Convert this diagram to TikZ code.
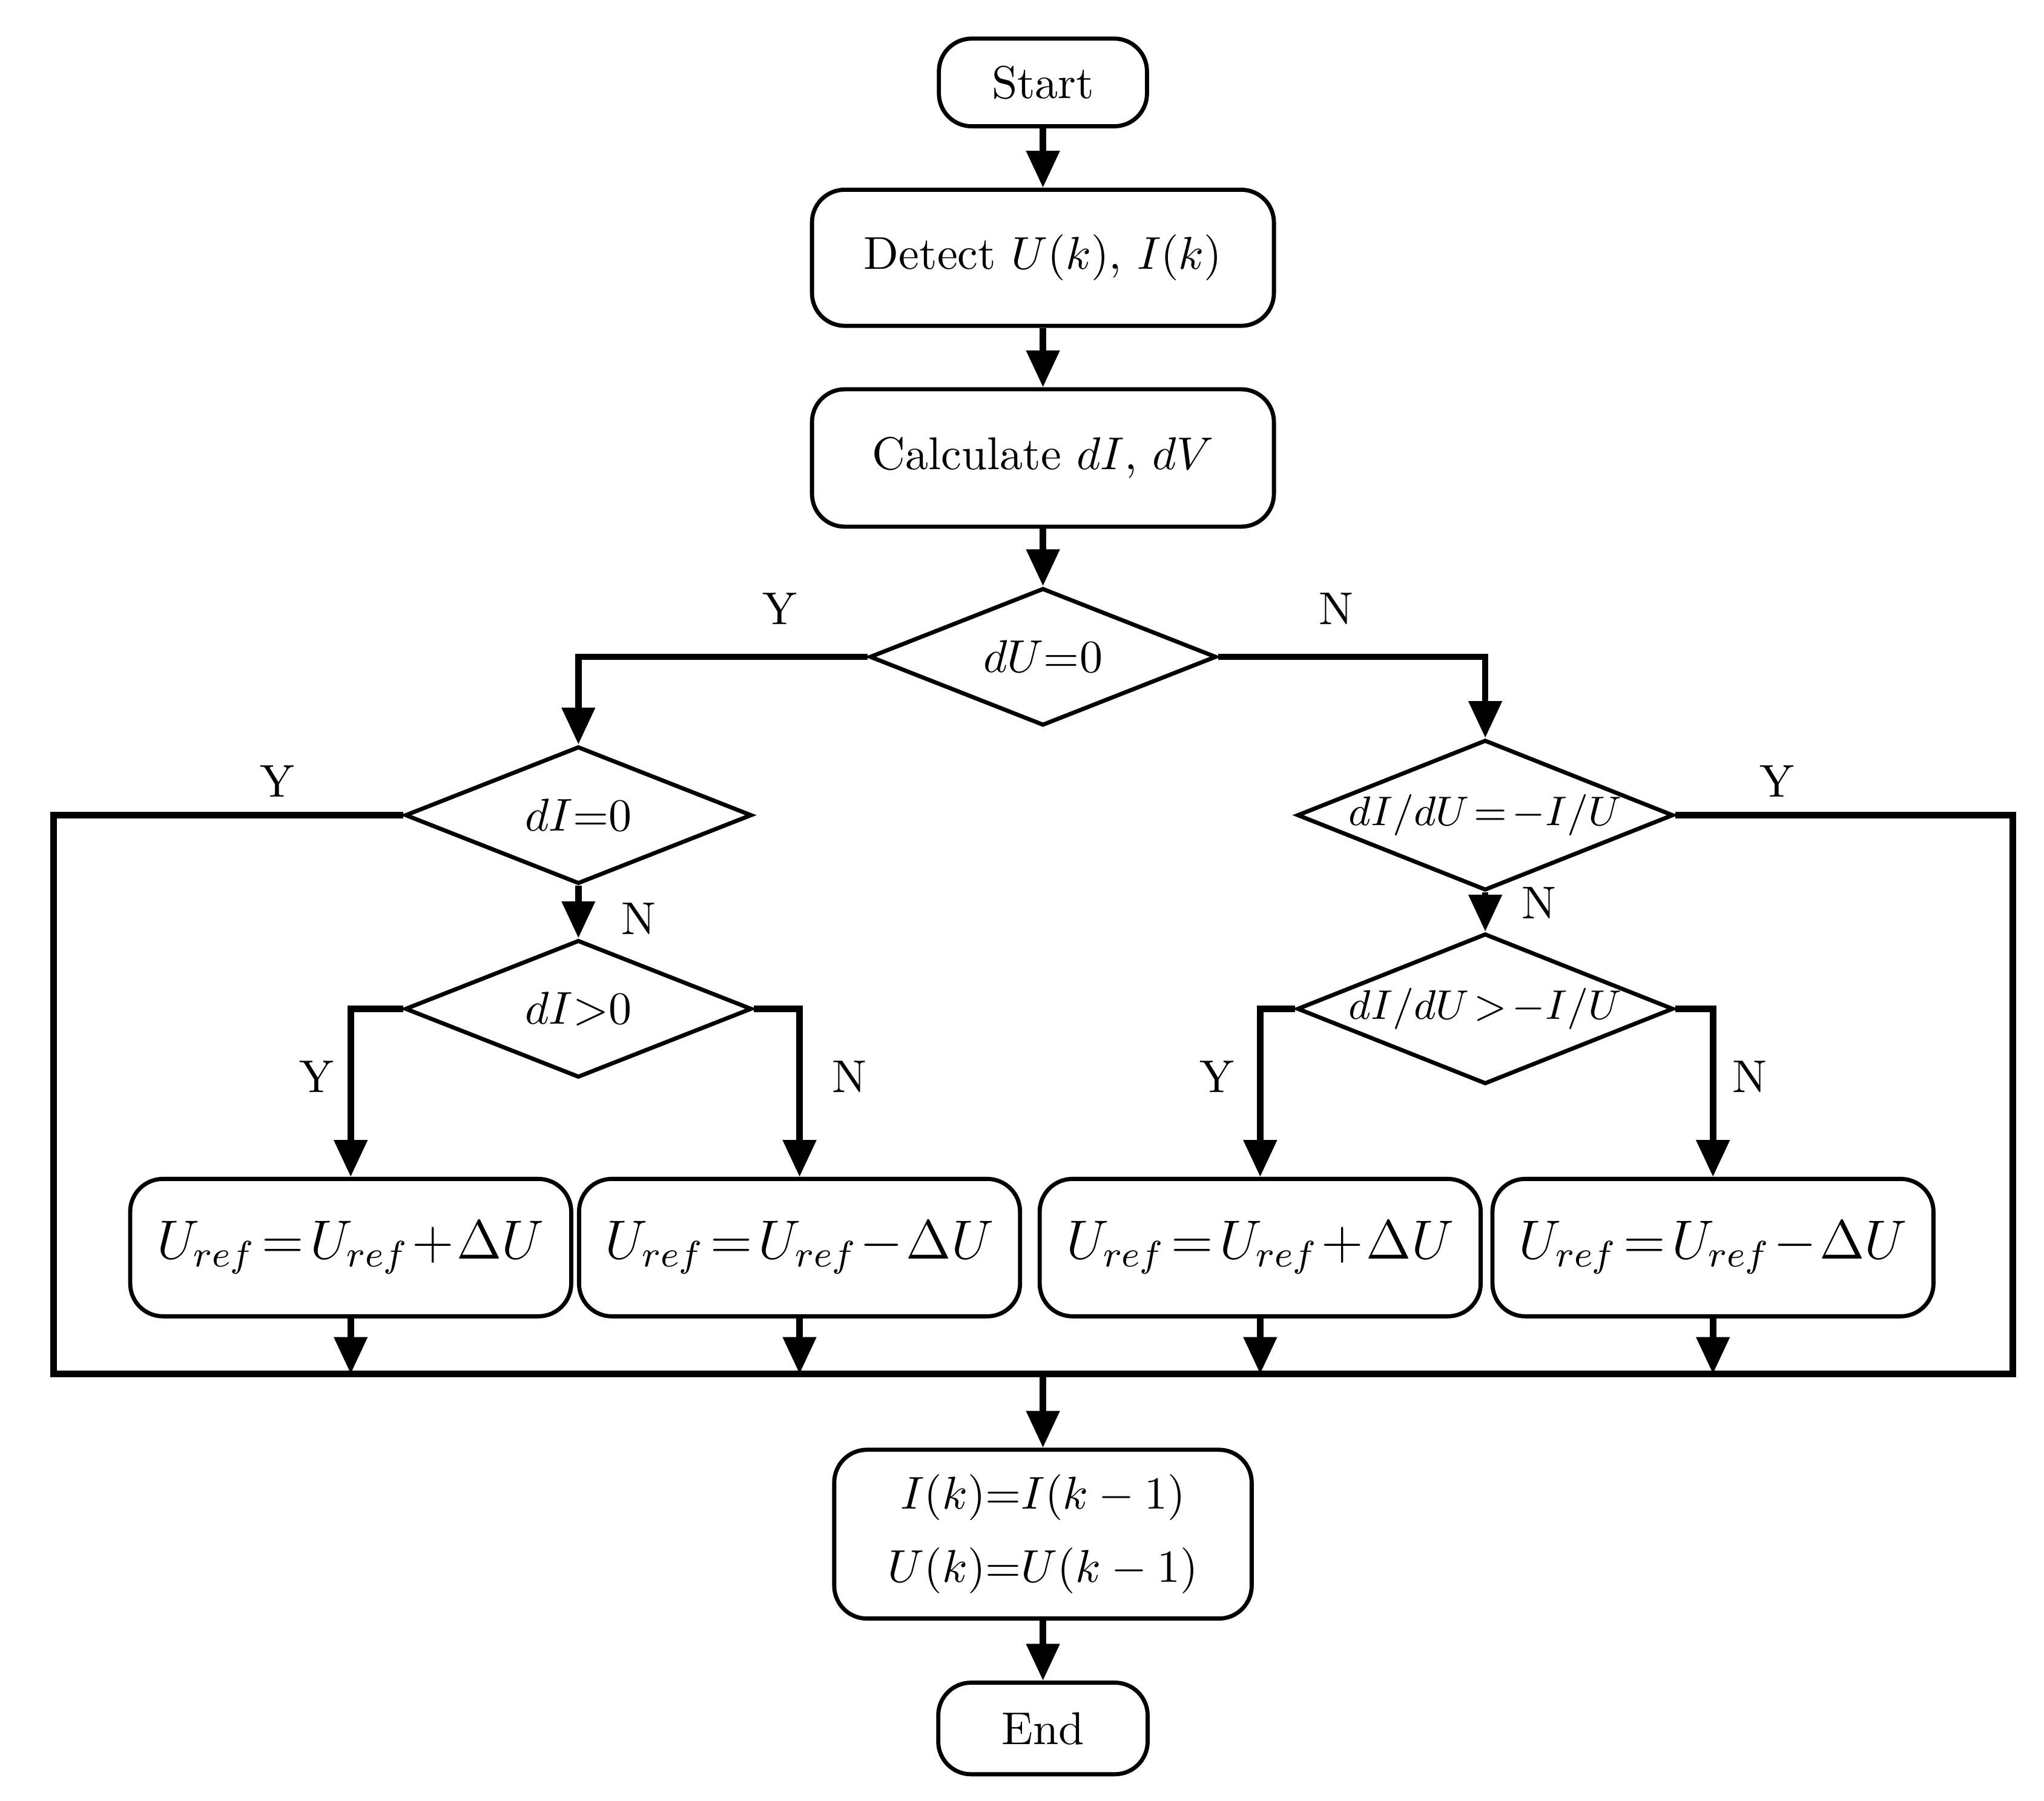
\documentclass[tikz,border=0pt]{standalone}
\usetikzlibrary{shapes.geometric,arrows.meta}
\newcommand{\tgt}{\thickmuskip=2mu\medmuskip=1mu\relax}
\begin{document}
\begin{tikzpicture}[
  box/.style={draw, line width=0.9pt, rounded corners=0.25cm, inner sep=0, align=center, font=\fontsize{10}{14}\selectfont},
  dia/.style={draw, line width=0.9pt, diamond, aspect=2.5, inner sep=0, minimum width=2.65cm, minimum height=1.05cm, font=\fontsize{10}{12}\selectfont},
  big/.style={box, minimum width=3.37cm, minimum height=1.05cm, font=\fontsize{11.5}{14}\selectfont},
  con/.style={line width=1.4pt},
  arr/.style={con, -{Triangle[width=7pt,length=8pt]}},
  lab/.style={font=\fontsize{10}{12}\selectfont}
]
\useasboundingbox (0,0) rectangle (15.62,-13.76);
\node[box, minimum width=1.59cm, minimum height=0.67cm] (start) at (7.97,-0.63) {Start};
\node[box, minimum width=3.53cm, minimum height=1.04cm] (detect) at (7.97,-1.97) {Detect $U(k)$, $I(k)$};
\node[box, minimum width=3.53cm, minimum height=1.05cm] (calc) at (7.97,-3.50) {Calculate $dI$, $dV$};
\node[dia] (d0) at (7.97,-5.02) {$dU$=0};
\node[dia] (dl) at (4.42,-6.23) {$dI$=0};
\node[dia, font=\fontsize{9}{11}\selectfont] (dr) at (11.35,-6.23) {$\tgt dI/dU=-I/U$};
\node[dia] (dl2) at (4.42,-7.71) {$dI$>0};
\node[dia, font=\fontsize{9}{11}\selectfont] (dr2) at (11.35,-7.71) {$\tgt dI/dU>-I/U$};
\node[big] (b1) at (2.68,-9.535) {$\tgt U_{ref}=U_{ref}+\Delta U$};
\node[big] (b2) at (6.11,-9.535) {$\tgt U_{ref}=U_{ref}-\Delta U$};
\node[big] (b3) at (9.63,-9.535) {$\tgt U_{ref}=U_{ref}+\Delta U$};
\node[big] (b4) at (13.09,-9.535) {$\tgt U_{ref}=U_{ref}-\Delta U$};
\node[box, minimum width=3.19cm, minimum height=1.29cm, font=\fontsize{10}{16}\selectfont] (upd) at (7.97,-11.725) {$I(k)$=$I(k-1)$\\$U(k)$=$U(k-1)$};
\node[box, minimum width=1.60cm, minimum height=0.70cm] (end) at (7.97,-13.21) {End};
\coordinate (bl) at (0.41,-10.50);
\coordinate (tr) at (15.38,-6.23);
\draw[con] (dl.west) -| (bl) -| (tr) -- (dr.east);
\draw[arr] (start) -- (detect);
\draw[arr] (detect) -- (calc);
\draw[arr] (calc) -- (d0);
\draw[arr] (d0.west) -| (dl.north);
\draw[arr] (d0.east) -| (dr.north);
\draw[arr] (dl) -- (dl2);
\draw[arr] (dr) -- (dr2);
\draw[arr] (dl2.west) -| (b1.north);
\draw[arr] (dl2.east) -| (b2.north);
\draw[arr] (dr2.west) -| (b3.north);
\draw[arr] (dr2.east) -| (b4.north);
\foreach \b in {b1,b2,b3,b4} \draw[arr] (\b.south) -- (\b.south |- bl);
\draw[arr] (upd.north |- bl) -- (upd.north);
\draw[arr] (upd) -- (end);
\node[lab] at (5.96,-4.65) {Y};
\node[lab] at (10.21,-4.65) {N};
\node[lab] at (2.12,-5.97) {Y};
\node[lab] at (13.58,-5.97) {Y};
\node[lab] at (4.88,-7.02) {N};
\node[lab] at (11.76,-6.90) {N};
\node[lab] at (2.42,-8.23) {Y};
\node[lab] at (6.49,-8.23) {N};
\node[lab] at (9.30,-8.23) {Y};
\node[lab] at (13.37,-8.23) {N};
\end{tikzpicture}
\end{document}
